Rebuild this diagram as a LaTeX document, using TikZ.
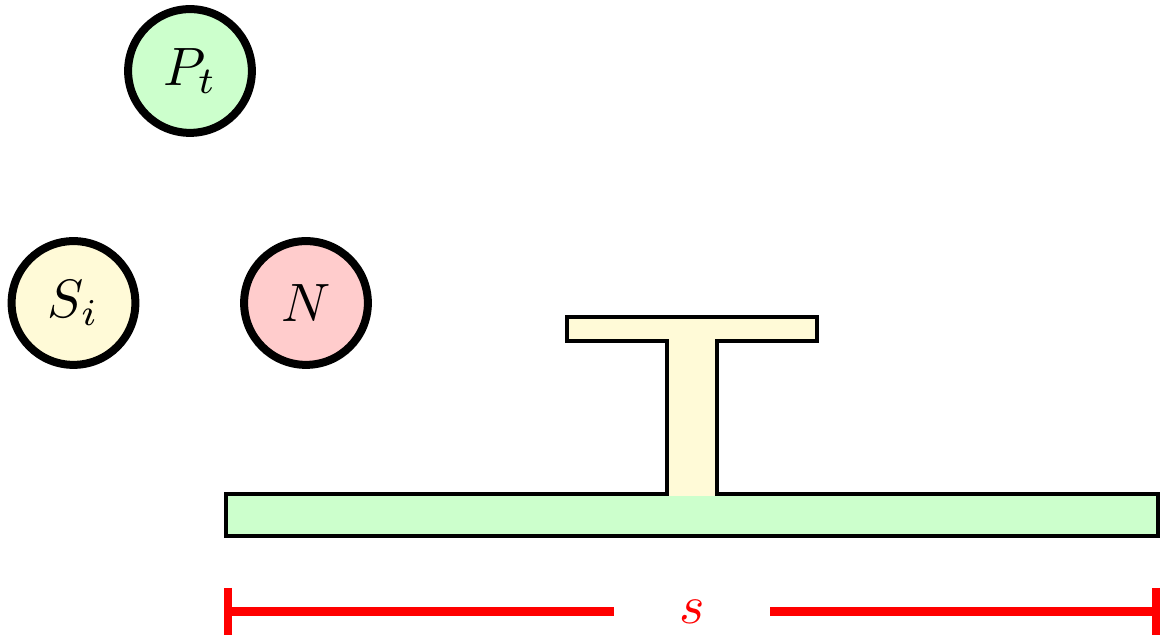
\documentclass[tikz,border=0pt]{standalone}
\begin{document}
\begin{tikzpicture}[x=0.185pt,y=-0.185pt,
  ball/.style={circle,draw=black,line width=1.48pt,minimum size=22.9pt,inner sep=0pt},
  outline/.style={draw=black,line width=0.74pt,line join=miter},
  dim/.style={draw=red,line width=1.66pt}]
\definecolor{cgreen}{RGB}{204,255,204}
\definecolor{cyellow}{RGB}{255,250,215}
\definecolor{cred}{RGB}{255,204,204}
\useasboundingbox (0,0) rectangle (1163,637);
% balls
\node[ball,fill=cgreen] (P) at (190,71) {$P_t$};
\node[ball,fill=cyellow] (S) at (73.5,303) {$S_i$};
\node[ball,fill=cred] (N) at (306,303) {$N$};
% bar and T
\fill[cgreen] (226,494) rectangle (1158,536);
\fill[cyellow] (667,496) -- (667,341) -- (567,341) -- (567,317) -- (817,317) -- (817,341) -- (717,341) -- (717,496) -- cycle;
\path[outline] (667,494) -- (226,494) -- (226,536) -- (1158,536) -- (1158,494) -- (717,494) -- (717,341) -- (817,341) -- (817,317) -- (567,317) -- (567,341) -- (667,341) -- cycle;
% dimension
\coordinate (dl) at (228,611.5);
\coordinate (dr) at (1156,611.5);
\node[text=red,minimum width=28.5pt,inner sep=0pt,minimum height=4pt] (s) at (692,611.5) {$s$};
\draw[dim] (dl) -- (s.west);
\draw[dim] (s.east) -- (dr);
\draw[dim] ([yshift=23.5*0.185pt]dl) -- ([yshift=-23.5*0.185pt]dl);
\draw[dim] ([yshift=23.5*0.185pt]dr) -- ([yshift=-23.5*0.185pt]dr);
\end{tikzpicture}
\end{document}
